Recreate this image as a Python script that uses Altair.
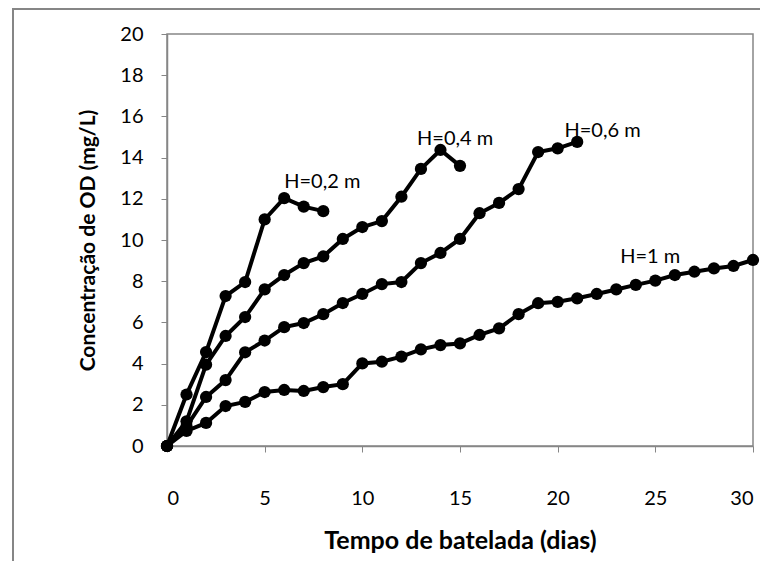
import altair as alt
import pandas as pd

# Day index for each series
days_02 = list(range(0, 9))
days_04 = list(range(0, 16))
days_06 = list(range(0, 22))
days_1 = list(range(0, 31))

h02 = [0, 2.5, 4.56, 7.28, 7.96, 11.0, 12.03, 11.62, 11.4]
h04 = [0, 1.2, 3.95, 5.34, 6.26, 7.6, 8.3, 8.88, 9.2, 10.05, 10.63, 10.92, 12.1, 13.45, 14.37, 13.6]
h06 = [0, 0.95, 2.38, 3.2, 4.55, 5.12, 5.77, 5.97, 6.4, 6.94, 7.38, 7.86, 7.96, 8.88, 9.37,
       10.05, 11.3, 11.8, 12.47, 14.27, 14.45, 14.76]
h1 = [0, 0.73, 1.12, 1.94, 2.14, 2.62, 2.72, 2.67, 2.86, 3.0, 4.01, 4.09, 4.34, 4.69, 4.9,
      4.98, 5.39, 5.71, 6.4, 6.93, 7.0, 7.17, 7.38, 7.6, 7.82, 8.03, 8.3, 8.46, 8.62, 8.74, 9.03]

series_names = ["H=0,2 m", "H=0,4 m", "H=0,6 m", "H=1 m"]
label_x = [6.0, 12.8, 20.35, 23.2]
label_y = [12.8, 14.9, 15.3, 9.17]

rows = []
for name, days, vals in zip(series_names, [days_02, days_04, days_06, days_1], [h02, h04, h06, h1]):
    for d, v in zip(days, vals):
        rows.append({"serie": name, "dia": d, "od": v})
df = pd.DataFrame(rows)
labels = pd.DataFrame({"serie": series_names, "x": label_x, "y": label_y})

FONT = "Lato"
GRAY = "#868686"

xscale = alt.Scale(domain=[0, 30], nice=False)
yscale = alt.Scale(domain=[0, 20], nice=False)

lines = alt.Chart(df).mark_line(
    point=alt.OverlayMarkDef(filled=True, size=150, color="black", opacity=1),
    color="black", strokeWidth=4
).encode(
    x=alt.X("dia:Q", scale=xscale,
            axis=alt.Axis(values=[0, 5, 10, 15, 20, 25, 30], title="Tempo de batelada (dias)",
                          grid=False, tickSize=6, labelPadding=36, domainColor=GRAY,
                          tickColor=GRAY, domainWidth=1.5, titleY=94, titleBaseline="middle",
                          titleFontSize=25)),
    y=alt.Y("od:Q", scale=yscale,
            axis=alt.Axis(values=list(range(0, 21, 2)), title="Concentração de OD (mg/L)",
                          grid=False, tickSize=6, labelPadding=18, domainColor=GRAY,
                          tickColor=GRAY, domainWidth=1.5, titleX=-79, titleY=206,
                          titleAngle=-90, titleAlign="center", titleBaseline="middle",
                          titleFontSize=21)),
    detail="serie:N",
)

text = alt.Chart(labels).mark_text(
    align="left", baseline="middle", font=FONT, fontSize=20, color="black"
).encode(
    x=alt.X("x:Q", scale=xscale),
    y=alt.Y("y:Q", scale=yscale),
    text="serie:N",
)

# outer chart frame (only left and top edges are visible in the reference)
frame_left = alt.Chart(labels).mark_rule(stroke=GRAY, strokeWidth=2).encode(
    x=alt.value(-154), x2=alt.value(-154), y=alt.value(-25), y2=alt.value(527)
)
frame_top = alt.Chart(labels).mark_rule(stroke=GRAY, strokeWidth=2).encode(
    x=alt.value(-155), x2=alt.value(593), y=alt.value(-25), y2=alt.value(-25)
)

chart = alt.layer(frame_left, frame_top, lines, text).properties(
    width=586, height=412,
    padding={"left": 159, "top": 26, "right": 8, "bottom": 116},
    autosize=alt.AutoSizeParams(type="none"),
    background="white",
).configure_view(
    stroke=GRAY, strokeWidth=1.5
).configure_axis(
    labelFont=FONT, labelFontSize=20, labelColor="black",
    titleFont=FONT, titleFontWeight="bold", titleColor="black",
)

chart.save("out.html", embed_options={"renderer": "svg", "actions": False})
